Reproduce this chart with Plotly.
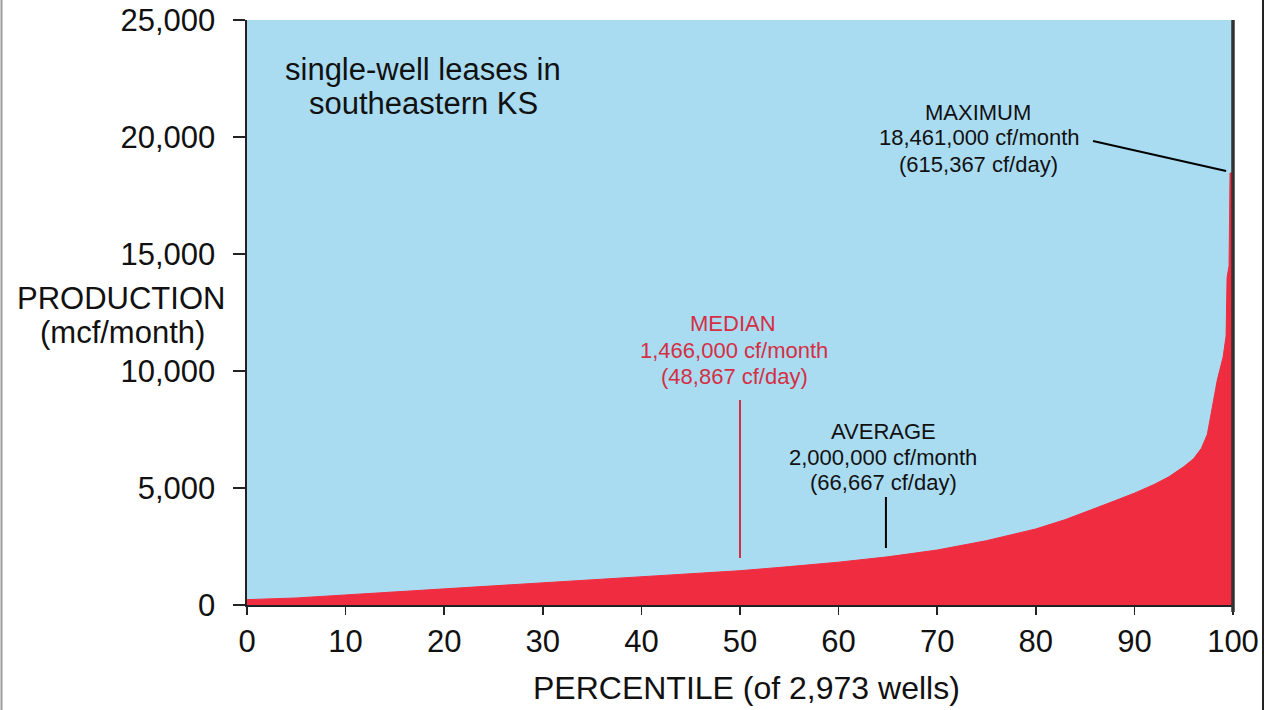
import plotly.graph_objects as go

# ---- data ----
percentile = [0, 5, 10, 15, 20, 25, 30, 35, 40, 45, 50, 55, 60, 65, 70, 75, 80, 83, 86, 88,
              90, 92, 93.5, 95, 96, 96.8, 97.4, 97.8, 98.4, 99.0, 99.3, 99.4, 99.6, 99.7, 100]
production = [230, 300, 430, 560, 690, 810, 940, 1070, 1200, 1330, 1466, 1640, 1830, 2060, 2350,
              2750, 3250, 3650, 4150, 4450, 4780, 5150, 5480, 5910, 6250, 6700, 7300, 8200, 9600,
              10600, 11500, 14000, 14500, 18461, 18461]

x_ticks = [0, 10, 20, 30, 40, 50, 60, 70, 80, 90, 100]
y_ticks = [0, 5000, 10000, 15000, 20000, 25000]

median_pct, median_line = 50, [2009, 8760]
average_pct, average_line = 64.8, [2436, 4615]
max_line_x, max_line_y = [85.8, 99.3], [19829, 18547]

RED = "#f02c40"
BLUE = "#aadcf1"
MEDIAN_RED = "#d42f45"
FONT = "Liberation Sans, Arial, sans-serif"

W, H = 1271, 710
PLOT_L, PLOT_R, PLOT_T, PLOT_B = 247, 1233, 20, 605
L, R, T, B = PLOT_L, W - PLOT_R, PLOT_T, H - PLOT_B
PW, PH = PLOT_R - PLOT_L, PLOT_B - PLOT_T


def px(xp):
    return (xp - PLOT_L) / PW


def py(yp):
    return (PLOT_B - yp) / PH


fig = go.Figure()
fig.add_trace(go.Scatter(
    x=percentile, y=production, mode="lines", fill="tozeroy",
    line=dict(color=RED, width=1), fillcolor=RED, hoverinfo="skip", showlegend=False))

# median / average / maximum pointer lines
fig.add_trace(go.Scatter(x=[median_pct, median_pct], y=median_line, mode="lines",
                         line=dict(color=MEDIAN_RED, width=2), showlegend=False))
fig.add_trace(go.Scatter(x=[average_pct, average_pct], y=average_line, mode="lines",
                         line=dict(color="black", width=2), showlegend=False))
fig.add_trace(go.Scatter(x=max_line_x, y=max_line_y, mode="lines",
                         line=dict(color="black", width=1.8), showlegend=False))

annotations = []


def text(s, xp, yp, size, color="#111111"):
    annotations.append(dict(text=s, x=px(xp), y=py(yp), xref="paper", yref="paper",
                            showarrow=False, xanchor="center", yanchor="middle",
                            font=dict(family=FONT, size=size, color=color)))


text("single-well leases in", 423, 69, 31)
text("southeastern KS", 423, 103, 31)

text("PRODUCTION", 121, 298, 31)
text("(mcf/month)", 122, 332, 31)

text("MAXIMUM", 978, 112, 22)
text("18,461,000 cf/month", 979, 138, 22)
text("(615,367 cf/day)", 978, 164, 22)

text("MEDIAN", 733, 324, 22, MEDIAN_RED)
text("1,466,000 cf/month", 734, 350, 22, MEDIAN_RED)
text("(48,867 cf/day)", 734, 376, 22, MEDIAN_RED)

text("AVERAGE", 883, 432, 22)
text("2,000,000 cf/month", 883, 457, 22)
text("(66,667 cf/day)", 883, 482, 22)

text("PERCENTILE (of 2,973 wells)", 746, 688, 32)

shapes = [
    # scan frame lines
    dict(type="line", xref="paper", yref="paper", x0=px(1263), x1=px(1263), y0=py(H), y1=py(0),
         line=dict(color="#222222", width=2)),
    dict(type="line", xref="paper", yref="paper", x0=px(1.5), x1=px(1.5), y0=py(H), y1=py(0),
         line=dict(color="#9a9a9a", width=2)),
    # thick right plot edge
    dict(type="line", xref="paper", yref="paper", x0=1, x1=1, y0=py(612), y1=1,
         line=dict(color="#333333", width=3.5)),
]

fig.update_layout(
    width=W, height=H,
    margin=dict(l=L, r=R, t=T, b=B, autoexpand=False),
    paper_bgcolor="white", plot_bgcolor=BLUE,
    font=dict(family=FONT, color="#111111"),
    annotations=annotations, shapes=shapes,
    showlegend=False,
)

fig.update_xaxes(
    range=[0, 100], tickvals=x_ticks, ticks="outside", ticklen=8, tickwidth=1.5,
    tickcolor="#222222", showline=True, linecolor="#222222", linewidth=2,
    showgrid=False, zeroline=False, tickfont=dict(size=31, family=FONT, color="#111111"),
    automargin=False, ticklabeloverflow="allow",
)
fig.update_yaxes(
    range=[0, 25000], tickvals=y_ticks, tickformat=",", ticks="outside", ticklen=12, tickwidth=1.5,
    tickcolor="#222222", showline=True, linecolor="#222222", linewidth=2.5, mirror=False,
    showgrid=False, zeroline=False, tickfont=dict(size=31, family=FONT, color="#111111"),
    ticklabelstandoff=11, automargin=False, ticklabeloverflow="allow",
)

fig.write_html("out.html",
               config={"displayModeBar": False, "staticPlot": True},
               post_script="document.body.style.margin='0px';document.body.style.overflow='hidden';")
